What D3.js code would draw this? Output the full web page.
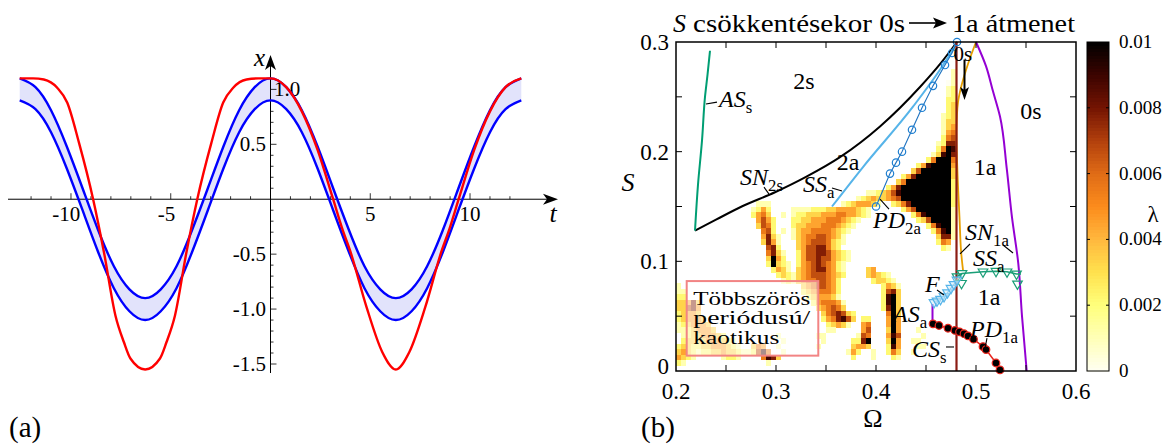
<!DOCTYPE html>
<html>
<head>
<meta charset="utf-8">
<script src="https://cdn.jsdelivr.net/npm/d3@7"></script>
<style>
body { margin: 0; background: #fff; }
svg { display: block; }
</style>
</head>
<body>
<div id="chart"></div>
<script>
// ---------- panel (a) data: x(t)
var tBlue = [-12.57,-11.78,-11.0,-10.21,-9.42,-8.64,-7.85,-7.07,-6.28,-5.5,-4.71,-3.93,-3.14,-2.36,-1.57,-0.79,0,
             0.79,1.57,2.36,3.14,3.93,4.71,5.5,6.28,7.07,7.85,8.64,9.42,10.21,11.0,11.78,12.57];
var xUpper = [1.1,1.02,0.81,0.48,0.1,-0.28,-0.61,-0.82,-0.9,-0.82,-0.61,-0.28,0.1,0.48,0.81,1.02,1.1,
              1.02,0.81,0.48,0.1,-0.28,-0.61,-0.82,-0.9,-0.82,-0.61,-0.28,0.1,0.48,0.81,1.02,1.1];
var xLower = [0.9,0.82,0.61,0.28,-0.1,-0.48,-0.81,-1.02,-1.1,-1.02,-0.81,-0.48,-0.1,0.28,0.61,0.82,0.9,
              0.82,0.61,0.28,-0.1,-0.48,-0.81,-1.02,-1.1,-1.02,-0.81,-0.48,-0.1,0.28,0.61,0.82,0.9];
var tRed = [-12.57,-11.9,-11.36,-10.69,-10.19,-9.6,-8.89,-8.35,-7.77,-7.35,-7.02,-6.28,-5.54,-5.21,-4.79,-4.21,-3.67,
            -2.96,-2.37,-1.87,-1.2,-0.6,0,0.79,1.57,2.36,3.14,3.6,4.01,4.81,5.6,6.28,6.96,7.76,8.56,8.97,9.43,
            10.21,11.0,11.78,12.57];
var xRed = [1.1,1.1,1.09,1.015,0.88,0.515,0,-0.48,-1.06,-1.3,-1.45,-1.55,-1.45,-1.3,-1.06,-0.48,0,
            0.515,0.88,1.015,1.09,1.1,1.1,1.02,0.8,0.45,0,-0.27,-0.48,-0.98,-1.39,-1.55,-1.39,-0.98,-0.48,-0.27,0,
            0.45,0.8,1.02,1.1];
var tTickLabels = [-10,-5,5,10];
var xTickLabels = [-1.5,-1.0,-0.5,0.5];

// ---------- panel (b) data: lambda map and bifurcation curves
// heat map rows from S = 0.28 downwards, step 0.005; "col:digits", digit d means lambda = d/9 * 0.01
var heatStep = 0.005, heatTop = 0.28, heatLeft = 0.2;
var heatRows = [
"",
"55:1",
"55:1",
"54:01",
"54:12",
"54:12",
"54:22",
"54:23",
"54:23",
"53:123",
"53:133",
"53:134",
"53:145",
"53:256",
"52:1277",
"52:2598",
"51:13897",
"50:259995",
"48:24899994",
"47:369999993",
"45:24799999993",
"44:359999999992",
"42:24799999999992",
"38:112346899999999992",
"36:12343345699999999992",
"16:111 33:12344431 43:2357999999992",
"15:1242 23:1111222334444321 45:24699999991",
"15:2453 21:1 23:1223334445544321 47:258999991",
"16:4642 23:22334445554321 48:23699991",
"16:3652 23:2334445554321 50:258991",
"17:562 21:1 23:134455554321 51:25891",
"17:4731 23:13455665431 52:3771",
"17:3741 24:3456665321 52:254",
"18:672 24:346677532 53:21",
"18:5731 24:24667764321",
"18:3942 24:24667664321",
"18:29321 24:2456765421",
"19:2431 24:3456775421 38:34",
"20:2321 24:3456665432 38:34321",
"21:121 24:345566542 39:23321",
"0:1 25:34566542 41:2431",
"0:11 25:23455542 41:2673",
"0:22 26:2344431 41:2893",
"0:33473 27:2455541 41:2893",
"0:33674 28:345653 41:2793",
"0:23443 29:3567632 42:593",
"0:234443 29:2457863 37:22 42:494",
"0:1234443 30:23431 37:45 42:494",
"0:11234443 30:11 37:46 42:394 48:1",
"1:123344432 20:1 28:11 36:165 42:486 49:1",
"1:23333444321 21:1 29:1 35:2279 42:394 47:11",
"0:2332233444321 15:354 20:1 28:1 35:3443 42:284 48:11",
"0:34321223343321 14:12685 21:1 34:142 39:1 42:253 47:1",
"0:4321 9:1221 17:5873 35:2 39:1 43:21",
"0:21 18:1",
""
];

var lambdaStops = [0,0.001,0.002,0.003,0.004,0.005,0.006,0.007,0.008,0.009,0.01];
var lambdaColors = ["#fffff2","#ffffb8","#ffff7c","#ffe24e","#ffb83e","#fc8c1c","#e06c16","#b2400c","#741402","#3c0400","#000000"];
var lambdaTicks = [0,0.002,0.004,0.006,0.008,0.01];
var lambdaLabels = ["0","0.002","0.004","0.006","0.008","0.01"];

var snOmega = [0.219,0.24,0.2657,0.299,0.33,0.364,0.404,0.444,0.465,0.481];
var snS     = [0.128,0.138,0.150,0.163,0.177,0.195,0.223,0.259,0.281,0.3];
var asOmega = [0.219,0.222,0.226,0.229,0.2315,0.234];
var asS     = [0.128,0.17,0.21,0.25,0.27,0.292];
var ssOmega = [0.356,0.387,0.437,0.465,0.481];
var ssS     = [0.15,0.186,0.241,0.276,0.299];
var pd2Omega = [0.400,0.414,0.420,0.426,0.436,0.446,0.457,0.469,0.476,0.481];
var pd2S     = [0.150,0.180,0.190,0.200,0.220,0.240,0.260,0.279,0.290,0.300];
var csOmega = [0.4805,0.4805];
var csS     = [0,0.3];
var sn1Omega = [0.5,0.492,0.486,0.482,0.4805,0.4815,0.4835,0.485,0.487];
var sn1S     = [0.3,0.28,0.262,0.245,0.22,0.18,0.14,0.11,0.092];
var asaOmega = [0.5,0.51,0.517,0.524,0.5307,0.536,0.5423,0.546,0.5507];
var asaS     = [0.3,0.278,0.255,0.232,0.185,0.14,0.098,0.05,0.0];
var asa2Omega = [0.4565,0.4565];
var asa2S     = [0.043,0.061];
var ssaLineOmega = [0.481,0.486,0.507,0.52,0.531,0.5405,0.545];
var ssaLineS     = [0.086,0.089,0.0905,0.091,0.0905,0.0885,0.0885];
var ssaOmega = [0.481,0.486,0.4855,0.507,0.52,0.531,0.5405,0.5415];
var ssaS     = [0.086,0.089,0.080,0.0905,0.091,0.0905,0.0885,0.0795];
var fOmega = [0.458,0.461,0.4645,0.468,0.4715,0.475,0.478,0.481];
var fS     = [0.0625,0.064,0.0655,0.068,0.0715,0.0755,0.079,0.083];
var pd1Omega = [0.457,0.463,0.472,0.479,0.4835,0.488,0.492,0.4975,0.507,0.510,0.520,0.524];
var pd1S     = [0.043,0.0415,0.039,0.037,0.0357,0.034,0.032,0.029,0.0222,0.0195,0.0073,0.001];

var omegaTickLabels = [0.2,0.3,0.4,0.5,0.6];
var sTickLabels = [0,0.1,0.2,0.3];

var serif = "'Liberation Serif', 'DejaVu Serif', 'Noto Serif', 'Times New Roman', Times, serif";

// ---------- svg
var width = 1168, height = 446;
var svg = d3.select("#chart").append("svg")
    .attr("width", width).attr("height", height)
    .attr("font-family", serif);

// =============== panel (a) ===============
var xa = d3.scaleLinear().domain([-12.57, 12.57]).range([19.7, 521.3]);
var ya = d3.scaleLinear().domain([-1.5, 0.5]).range([364, 144.3]);
var ga = svg.append("g");

var band = tBlue.map(function(t, i) { return {t: t, hi: xUpper[i], lo: xLower[i]}; });
ga.append("path")
    .datum(band)
    .attr("fill", "#e2e3fb")
    .attr("d", d3.area().curve(d3.curveNatural)
        .x(function(d) { return xa(d.t); })
        .y0(function(d) { return ya(d.lo); })
        .y1(function(d) { return ya(d.hi); }));

// axes with arrows
var ax0 = ya(0), ay0 = xa(0);
ga.append("line").attr("x1", 8).attr("x2", 552).attr("y1", ax0).attr("y2", ax0)
    .attr("stroke", "#000").attr("stroke-width", 1);
ga.append("path").attr("d", "M558," + ax0 + " L543," + (ax0 - 5.5) + " L547," + ax0 + " L543," + (ax0 + 5.5) + " Z")
    .attr("fill", "#000");
ga.append("line").attr("x1", ay0).attr("x2", ay0).attr("y1", 373).attr("y2", 62)
    .attr("stroke", "#000").attr("stroke-width", 1);
ga.append("path").attr("d", "M" + ay0 + ",55 L" + (ay0 - 5.5) + ",70 L" + ay0 + ",66 L" + (ay0 + 5.5) + ",70 Z")
    .attr("fill", "#000");

// minor / major ticks
d3.range(-12, 13).forEach(function(k) {
    if (k === 0) return;
    var len = (k % 5 === 0) ? 6 : 3;
    ga.append("line").attr("x1", xa(k)).attr("x2", xa(k)).attr("y1", ax0).attr("y2", ax0 - len)
        .attr("stroke", "#000").attr("stroke-width", 0.8);
});
d3.range(-15, 11).forEach(function(k) {
    if (k === 0) return;
    var len = (k % 5 === 0) ? 6 : 3;
    ga.append("line").attr("x1", ay0).attr("x2", ay0 + len).attr("y1", ya(k / 10)).attr("y2", ya(k / 10))
        .attr("stroke", "#000").attr("stroke-width", 0.8);
});

tTickLabels.forEach(function(v) {
    var digits = String(Math.abs(v)).length;
    ga.append("text")
        .attr("x", v < 0 ? xa(v) + digits * 4.6 : xa(v))
        .attr("y", 221)
        .attr("text-anchor", v < 0 ? "end" : "middle")
        .style("font-size", "21px")
        .text(String(v));
});
xTickLabels.forEach(function(v) {
    ga.append("text")
        .attr("x", 266).attr("y", ya(v) + 7)
        .attr("text-anchor", "end")
        .style("font-size", "21px")
        .text(v.toFixed(1));
});
ga.append("text").attr("x", 274).attr("y", ya(1.0) + 7)
    .style("font-size", "21px").text("1.0");

ga.append("text").attr("x", 265).attr("y", 66).attr("text-anchor", "end")
    .style("font-size", "25px").style("font-style", "italic").text("x");
ga.append("text").attr("x", 553).attr("y", 222).attr("text-anchor", "middle")
    .style("font-size", "26px").style("font-style", "italic").text("t");

var lineA = d3.line().curve(d3.curveNatural)
    .x(function(d) { return xa(d[0]); })
    .y(function(d) { return ya(d[1]); });
ga.append("path").datum(tBlue.map(function(t, i) { return [t, xUpper[i]]; }))
    .attr("d", lineA).attr("fill", "none").attr("stroke", "#0000ff").attr("stroke-width", 2.4);
ga.append("path").datum(tBlue.map(function(t, i) { return [t, xLower[i]]; }))
    .attr("d", lineA).attr("fill", "none").attr("stroke", "#0000ff").attr("stroke-width", 2.4);
ga.append("path").datum(tRed.map(function(t, i) { return [t, xRed[i]]; }))
    .attr("d", lineA.curve(d3.curveMonotoneX)).attr("fill", "none").attr("stroke", "#ff0000").attr("stroke-width", 2.4);

svg.append("text").attr("x", 9).attr("y", 437).style("font-size", "29px").text("(a)");

// =============== panel (b) ===============
var xb = d3.scaleLinear().domain([0.2, 0.6]).range([676, 1076]);
var yb = d3.scaleLinear().domain([0, 0.3]).range([371, 42]);
var color = d3.scaleLinear().domain(lambdaStops).range(lambdaColors);
var gb = svg.append("g");

// heat map cells
var cells = [];
heatRows.forEach(function(row, r) {
    if (!row) return;
    row.split(" ").forEach(function(seg) {
        var parts = seg.split(":"), c0 = +parts[0];
        parts[1].split("").forEach(function(ch, j) {
            if (ch === ".") return;
            cells.push({
                om: heatLeft + (c0 + j) * heatStep,
                s: heatTop - (r + 1) * heatStep,
                lam: (+ch) / 9 * 0.01
            });
        });
    });
});
gb.selectAll("rect.cell")
    .data(cells)
    .enter().append("rect")
    .attr("class", "cell")
    .attr("x", function(d) { return xb(d.om); })
    .attr("y", function(d) { return yb(d.s + heatStep); })
    .attr("width", function(d) { return xb(d.om + heatStep) - xb(d.om) + 0.4; })
    .attr("height", function(d) { return yb(d.s) - yb(d.s + heatStep) + 0.4; })
    .attr("fill", function(d) { return color(d.lam); })
    .attr("shape-rendering", "crispEdges");

// region box
gb.append("rect")
    .attr("x", xb(0.2107)).attr("y", yb(0.082))
    .attr("width", xb(0.3423) - xb(0.2107)).attr("height", yb(0.014) - yb(0.082))
    .attr("fill", "#fff").attr("fill-opacity", 0.55)
    .attr("stroke", "#f28484").attr("stroke-width", 2);
[["Többszörös", 0.0605, 117], ["periódusú/", 0.0425, 117], ["kaotikus", 0.0245, 86]].forEach(function(p) {
    gb.append("text").attr("x", xb(0.2173)).attr("y", yb(p[1]))
        .attr("textLength", p[2]).attr("lengthAdjust", "spacingAndGlyphs")
        .style("font-size", "18.5px").text(p[0]);
});

function lineB(om, s) { return om.map(function(o, i) { return [xb(o), yb(s[i])]; }); }
function drawLine(om, s, col, w, curve) {
    gb.append("path").datum(lineB(om, s))
        .attr("d", d3.line().curve(curve || d3.curveLinear))
        .attr("fill", "none").attr("stroke", col).attr("stroke-width", w);
}
drawLine(snOmega, snS, "#000", 2, d3.curveMonotoneX);
drawLine(asOmega, asS, "#009e73", 2, d3.curveMonotoneY);
drawLine(ssOmega, ssS, "#56b4e9", 2, d3.curveMonotoneX);
drawLine(pd2Omega, pd2S, "#1f73c0", 1.1);
drawLine(sn1Omega, sn1S, "#e69f00", 1.8, d3.curveCatmullRom);
drawLine(csOmega, csS, "#8b1c14", 2.2);
drawLine(asaOmega, asaS, "#9400d3", 2, d3.curveMonotoneY);
drawLine(asa2Omega, asa2S, "#9400d3", 2);
drawLine(ssaLineOmega, ssaLineS, "#1a9e77", 1.5);
drawLine(fOmega, fS, "#56b4e9", 1.3);
drawLine(pd1Omega, pd1S, "#e8261e", 1.5);

gb.selectAll("circle.pd2").data(lineB(pd2Omega, pd2S)).enter().append("circle")
    .attr("cx", function(d) { return d[0]; }).attr("cy", function(d) { return d[1]; })
    .attr("r", 3.7).attr("fill", "none").attr("stroke", "#1f7fd0").attr("stroke-width", 1.2);
var triDown = d3.symbol().type(d3.symbolTriangle).size(40);
gb.selectAll("path.ssa").data(lineB(ssaOmega, ssaS)).enter().append("path")
    .attr("d", triDown)
    .attr("transform", function(d) { return "translate(" + d[0] + "," + d[1] + ") rotate(180)"; })
    .attr("fill", "none").attr("stroke", "#1a9e77").attr("stroke-width", 1.2);
gb.selectAll("path.f").data(lineB(fOmega, fS)).enter().append("path")
    .attr("d", triDown)
    .attr("transform", function(d) { return "translate(" + d[0] + "," + d[1] + ") rotate(180)"; })
    .attr("fill", "#cfe9f8").attr("fill-opacity", 0.5).attr("stroke", "#56b4e9").attr("stroke-width", 1.2);
gb.selectAll("circle.pd1").data(lineB(pd1Omega, pd1S)).enter().append("circle")
    .attr("cx", function(d) { return d[0]; }).attr("cy", function(d) { return d[1]; })
    .attr("r", 3.8).attr("fill", "#000").attr("stroke", "#e8261e").attr("stroke-width", 1.2);

// arrow 0s -> down
var arX = xb(0.4885);
gb.append("line").attr("x1", arX).attr("x2", arX).attr("y1", yb(0.284)).attr("y2", yb(0.255))
    .attr("stroke", "#000").attr("stroke-width", 2);
gb.append("path").attr("d", "M" + arX + "," + yb(0.247) + " l-4.5,-13 l4.5,3 l4.5,-3 Z").attr("fill", "#000");

// labels
function mathLabel(om, s, main, sub, size, anchor) {
    var t = gb.append("text").attr("x", xb(om)).attr("y", yb(s))
        .attr("text-anchor", anchor || "start")
        .style("font-size", size + "px");
    t.append("tspan").style("font-style", "italic").text(main);
    if (sub) t.append("tspan").attr("dy", size * 0.26).style("font-size", (size * 0.7) + "px").text(sub);
    return t;
}
function plainLabel(om, s, txt, size) {
    gb.append("text").attr("x", xb(om)).attr("y", yb(s)).attr("text-anchor", "middle")
        .style("font-size", size + "px").text(txt);
}
plainLabel(0.328, 0.257, "2s", 24);
plainLabel(0.555, 0.2297, "0s", 24);
plainLabel(0.509, 0.1787, "1a", 24);
plainLabel(0.513, 0.0602, "1a", 24);
plainLabel(0.372, 0.1832, "2a", 24);
gb.append("text").attr("x", xb(0.4775)).attr("y", yb(0.2825)).style("font-size", "21px").text("0s");

mathLabel(0.243, 0.2407, "AS", "s", 24);
mathLabel(0.264, 0.1696, "SN", "2s", 24);
mathLabel(0.327, 0.1632, "SS", "a", 24);
mathLabel(0.397, 0.1304, "PD", "2a", 24);
mathLabel(0.489, 0.1194, "SN", "1a", 24);
mathLabel(0.497, 0.0957, "SS", "a", 24);
mathLabel(0.449, 0.072, "F", "", 24);
mathLabel(0.417, 0.0447, "AS", "a", 24);
mathLabel(0.494, 0.031, "PD", "1a", 24);
mathLabel(0.436, 0.0128, "CS", "s", 24);

var leaders = [
    [0.230, 0.2434, 0.241, 0.2452],
    [0.288, 0.1677, 0.293, 0.1613],
    [0.356, 0.1668, 0.366, 0.1641],
    [0.404, 0.1568, 0.413, 0.1477],
    [0.494, 0.1158, 0.484, 0.1067],
    [0.527, 0.1149, 0.537, 0.1076],
    [0.461, 0.0738, 0.468, 0.0693],
    [0.511, 0.0300, 0.509, 0.0209],
    [0.470, 0.0219, 0.478, 0.0219]
];
leaders.forEach(function(l) {
    gb.append("line").attr("x1", xb(l[0])).attr("y1", yb(l[1])).attr("x2", xb(l[2])).attr("y2", yb(l[3]))
        .attr("stroke", "#000").attr("stroke-width", 1.1);
});

// frame and ticks
gb.append("rect").attr("x", xb(0.2)).attr("y", yb(0.3))
    .attr("width", xb(0.6) - xb(0.2)).attr("height", yb(0) - yb(0.3))
    .attr("fill", "none").attr("stroke", "#000").attr("stroke-width", 1.5);
d3.range(1, 8).forEach(function(k) {
    var x = xb(0.2 + k * 0.05);
    gb.append("line").attr("x1", x).attr("x2", x).attr("y1", yb(0)).attr("y2", yb(0) - 6).attr("stroke", "#000");
    gb.append("line").attr("x1", x).attr("x2", x).attr("y1", yb(0.3)).attr("y2", yb(0.3) + 6).attr("stroke", "#000");
});
d3.range(1, 6).forEach(function(k) {
    var y = yb(k * 0.05);
    gb.append("line").attr("x1", xb(0.2)).attr("x2", xb(0.2) + 6).attr("y1", y).attr("y2", y).attr("stroke", "#000");
    gb.append("line").attr("x1", xb(0.6)).attr("x2", xb(0.6) - 6).attr("y1", y).attr("y2", y).attr("stroke", "#000");
});
omegaTickLabels.forEach(function(v) {
    gb.append("text").attr("x", xb(v)).attr("y", 399).attr("text-anchor", "middle")
        .style("font-size", "23px").text(String(v));
});
sTickLabels.forEach(function(v) {
    gb.append("text").attr("x", 669).attr("y", yb(v) + (v === 0 ? 3 : 8)).attr("text-anchor", "end")
        .style("font-size", "23px").text(String(v));
});
gb.append("text").attr("x", 873).attr("y", 427).attr("text-anchor", "middle")
    .style("font-size", "26px").text("Ω");
gb.append("text").attr("x", 628).attr("y", 191).attr("text-anchor", "middle")
    .style("font-size", "26px").style("font-style", "italic").text("S");

// colour bar
var cb = d3.scaleLinear().domain([0, 0.01]).range([371, 42]);
var cbSteps = d3.range(0, 100).map(function(i) { return i / 100 * 0.01; });
gb.selectAll("rect.cb").data(cbSteps).enter().append("rect")
    .attr("x", 1087).attr("width", 22)
    .attr("y", function(d) { return cb(d + 0.0001); })
    .attr("height", function(d) { return cb(d) - cb(d + 0.0001) + 0.5; })
    .attr("fill", function(d) { return color(d + 0.00005); })
    .attr("shape-rendering", "crispEdges");
gb.append("rect").attr("x", 1087).attr("y", 42).attr("width", 22).attr("height", 329)
    .attr("fill", "none").attr("stroke", "#000").attr("stroke-width", 1);
lambdaTicks.forEach(function(v, i) {
    if (v > 0 && v < 0.01) {
        gb.append("line").attr("x1", 1087).attr("x2", 1090).attr("y1", cb(v)).attr("y2", cb(v)).attr("stroke", "#000");
        gb.append("line").attr("x1", 1109).attr("x2", 1106).attr("y1", cb(v)).attr("y2", cb(v)).attr("stroke", "#000");
    }
    gb.append("text").attr("x", 1119).attr("y", cb(v) + 6)
        .style("font-size", "19px").text(lambdaLabels[i]);
});
gb.append("text").attr("x", 1153).attr("y", 222).attr("text-anchor", "middle")
    .style("font-size", "23px").text("λ");

// title
var title = gb.append("g");
title.append("text").attr("x", 673).attr("y", 32).style("font-size", "26px").style("font-style", "italic").text("S");
title.append("text").attr("x", 693).attr("y", 32).style("font-size", "26px")
    .attr("textLength", 212).attr("lengthAdjust", "spacingAndGlyphs").text("csökkentésekor 0s");
title.append("line").attr("x1", 909).attr("x2", 938).attr("y1", 23).attr("y2", 23)
    .attr("stroke", "#000").attr("stroke-width", 1.6);
title.append("path").attr("d", "M947,23 L933,17.5 L936,23 L933,28.5 Z").attr("fill", "#000");
title.append("text").attr("x", 952).attr("y", 32).style("font-size", "26px")
    .attr("textLength", 123).attr("lengthAdjust", "spacingAndGlyphs").text("1a átmenet");

svg.append("text").attr("x", 641).attr("y", 437).style("font-size", "29px").text("(b)");
</script>
</body>
</html>
